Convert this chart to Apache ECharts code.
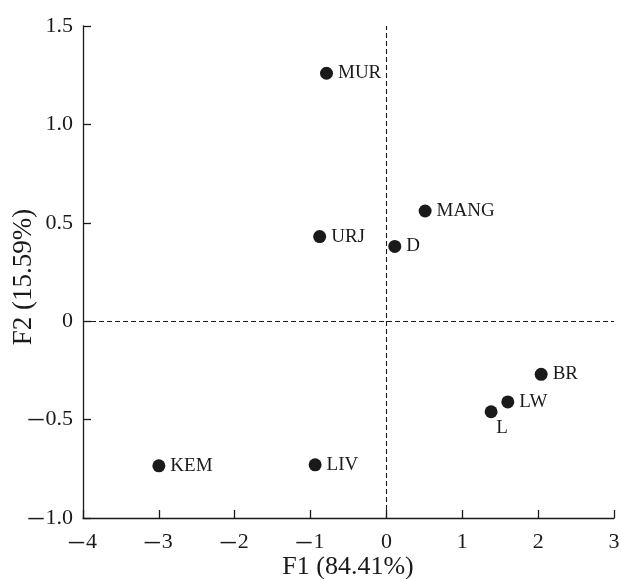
<!DOCTYPE html>
<html><head><meta charset="utf-8">
<script src="https://cdn.jsdelivr.net/npm/echarts@6/dist/echarts.min.js"></script>
<style>html,body{margin:0;padding:0;background:#fff}#c{width:621px;height:579px}</style>
</head><body><div id="c"></div>
<script>
var names = ['MUR','MANG','URJ','D','BR','LW','L','KEM','LIV'];
var f1 = [-0.79, 0.51, -0.88, 0.11, 2.04, 1.60, 1.38, -3.00, -0.94];
var f2 = [1.26, 0.56, 0.43, 0.38, -0.27, -0.41, -0.46, -0.735, -0.73];
var xTicks = {min:-4, max:3, interval:1};
var yTicks = {min:-1.0, max:1.5, interval:0.5};
var xTitle = 'F1 (84.41%)';
var yTitle = 'F2 (15.59%)';

var FONT = '"Liberation Serif","Times New Roman",serif';
var INK = '#1a1a1a';
function fmt(v, d){
  if (Math.abs(v) < 1e-9) return '0';
  var s = Math.abs(v).toFixed(d);
  return v < 0 ? '{m|\u2013}' + s : s;
}
var rich = {m:{fontFamily:FONT, fontSize:30, lineHeight:22, color:INK, padding:[0,2,0,0]}};

var data = names.map(function(n,i){
  var item = {name:n, value:[f1[i], f2[i]]};
  if (n === 'L') item.label = {position:'bottom', offset:[11,-5]};
  return item;
});

var chart = echarts.init(document.getElementById('c'));
chart.setOption({
  animation:false,
  grid:{left:83, right:7, top:26, bottom:61, containLabel:false, outerBoundsMode:'none'},
  graphic:[
    {type:'text', x:24, y:277, rotation:Math.PI/2,
      style:{text:yTitle, font:'27px ' + FONT, fill:INK, align:'center', verticalAlign:'middle'}},
    {type:'text', x:348, y:567,
      style:{text:xTitle, font:'26px ' + FONT, fill:INK, align:'center', verticalAlign:'middle'}}
  ],
  xAxis:{type:'value', min:xTicks.min, max:xTicks.max, interval:xTicks.interval,
    axisLine:{show:true, onZero:false, lineStyle:{color:INK, width:1.3}},
    axisTick:{show:true, inside:true, length:8, lineStyle:{color:INK, width:1.3}},
    axisLabel:{fontFamily:FONT, fontSize:22, lineHeight:22, color:INK, margin:13, rich:rich,
      formatter:function(v){return fmt(v,0);}},
    splitLine:{show:false}},
  yAxis:{type:'value', min:yTicks.min, max:yTicks.max, interval:yTicks.interval,
    axisLine:{show:true, onZero:false, lineStyle:{color:INK, width:1.3}},
    axisTick:{show:true, inside:true, length:8, lineStyle:{color:INK, width:1.3}},
    axisLabel:{fontFamily:FONT, fontSize:22, lineHeight:22, color:INK, margin:10, rich:rich,
      formatter:function(v){return fmt(v,1);}},
    splitLine:{show:false}},
  series:[{
    type:'scatter', symbol:'circle', symbolSize:13,
    itemStyle:{color:INK, opacity:1},
    data:data,
    label:{show:true, position:'right', distance:5, formatter:'{b}', fontFamily:FONT, fontSize:19, color:INK},
    emphasis:{disabled:true},
    markLine:{silent:true, symbol:['none','none'], label:{show:false},
      lineStyle:{color:INK, type:[5,3], width:1.1},
      data:[{xAxis:0},{yAxis:0}]}
  }]
});
</script></body></html>
